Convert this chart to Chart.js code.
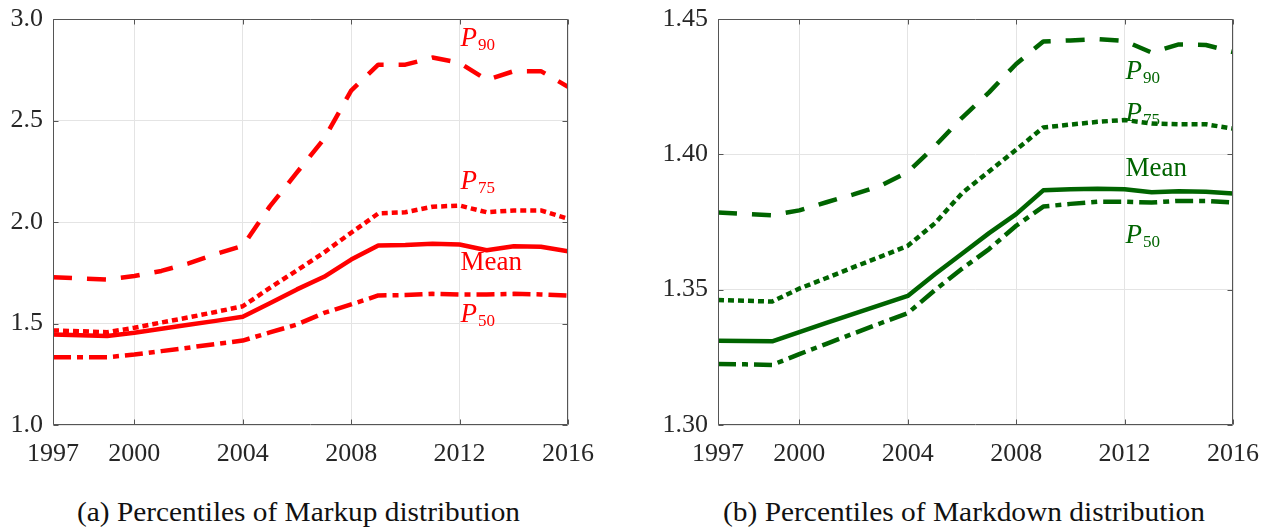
<!DOCTYPE html>
<html>
<head>
<meta charset="utf-8">
<title>Percentiles of Markup and Markdown distributions</title>
<script src="https://cdn.jsdelivr.net/npm/chart.js@4/dist/chart.umd.min.js"></script>
<style>
  html, body { margin: 0; padding: 0; background: #fff; width: 1271px; height: 529px; overflow: hidden; }
  .panel { position: absolute; top: 0; }
  .panel canvas { display: block; }
  #panelA { left: 0; }
  #panelB { left: 650px; }
  .caption {
    position: absolute; top: 499px; line-height: 1;
    font-family: "Liberation Serif", "DejaVu Serif", serif; font-size: 27px; color: #111;
    white-space: nowrap; transform-origin: left top;
  }
</style>
</head>
<body>
<div class="panel" id="panelA"><canvas id="markup" width="620" height="480"></canvas></div>
<div class="panel" id="panelB"><canvas id="markdown" width="621" height="480"></canvas></div>
<div class="caption" id="capA">(a) Percentiles of Markup distribution</div>
<div class="caption" id="capB">(b) Percentiles of Markdown distribution</div>

<script>
// ---- data -----------------------------------------------------------------
const years = [1997, 1998, 1999, 2000, 2001, 2002, 2003, 2004, 2005, 2006,
               2007, 2008, 2009, 2010, 2011, 2012, 2013, 2014, 2015, 2016];
const yearTicks = [1997, 2000, 2004, 2008, 2012, 2016];

// markups
const markupP90  = [1.728, 1.722, 1.717, 1.734, 1.759, 1.796, 1.842, 1.882, 2.077, 2.244,
                    2.410, 2.647, 2.775, 2.775, 2.810, 2.784, 2.700, 2.743, 2.743, 2.666];
const markupP75  = [1.466, 1.462, 1.457, 1.479, 1.505, 1.530, 1.557, 1.585, 1.675, 1.762,
                    1.850, 1.947, 2.042, 2.048, 2.075, 2.081, 2.048, 2.057, 2.057, 2.016];
const markupMean = [1.446, 1.442, 1.438, 1.454, 1.474, 1.494, 1.513, 1.533, 1.600, 1.668,
                    1.730, 1.815, 1.884, 1.887, 1.893, 1.889, 1.861, 1.881, 1.878, 1.856];
const markupP50  = [1.334, 1.334, 1.334, 1.347, 1.364, 1.381, 1.399, 1.416, 1.456, 1.495,
                    1.552, 1.594, 1.638, 1.640, 1.646, 1.643, 1.643, 1.646, 1.643, 1.638];
const markupTicks = [1.0, 1.5, 2.0, 2.5, 3.0];

// markdowns
const markdownP90  = [1.3785, 1.3780, 1.3775, 1.3793, 1.3823, 1.3852, 1.3884, 1.3934, 1.4030, 1.4135,
                      1.4229, 1.4334, 1.4417, 1.4421, 1.4426, 1.4419, 1.4376, 1.4406, 1.4404, 1.4378];
const markdownP75  = [1.3462, 1.3459, 1.3456, 1.3504, 1.3543, 1.3583, 1.3622, 1.3662, 1.3745, 1.3856,
                      1.3937, 1.4017, 1.4099, 1.4110, 1.4120, 1.4127, 1.4114, 1.4111, 1.4111, 1.4095];
const markdownMean = [1.3311, 1.3310, 1.3309, 1.3343, 1.3377, 1.3411, 1.3444, 1.3477, 1.3557, 1.3633,
                      1.3709, 1.3779, 1.3867, 1.3871, 1.3873, 1.3871, 1.3860, 1.3864, 1.3862, 1.3855];
const markdownP50  = [1.3225, 1.3224, 1.3222, 1.3262, 1.3300, 1.3338, 1.3376, 1.3413, 1.3498, 1.3577,
                      1.3650, 1.3736, 1.3807, 1.3817, 1.3825, 1.3825, 1.3822, 1.3828, 1.3828, 1.3822];
const markdownTicks = [1.30, 1.35, 1.40, 1.45];

// ---- styling ----------------------------------------------------------------
const SERIF = '"Liberation Serif", "DejaVu Serif", serif';
const AXIS_COLOR = '#555555';
const GRID_COLOR = '#e4e4e4';
const TEXT_COLOR = '#262626';

const LINE_STYLES = {
  p90:  [19, 15],
  p75:  [6, 4],
  mean: [],
  p50:  [18, 6, 6, 6]
};

function pairs(values) {
  return years.map((yr, i) => ({ x: yr, y: values[i] }));
}

function series(label, values, style, color) {
  return {
    label,
    data: pairs(values),
    borderColor: color,
    backgroundColor: color,
    borderWidth: 4.5,
    borderDash: LINE_STYLES[style],
    borderCapStyle: 'butt',
    borderJoinStyle: 'round',
    pointRadius: 0,
    tension: 0,
    fill: false
  };
}

// Box around the axes plus short inward tick marks on all four sides.
const axesBox = {
  id: 'axesBox',
  afterDatasetsDraw(chart) {
    const { ctx, chartArea: a, scales: { x, y } } = chart;
    const L = Math.round(a.left) + 0.5, R = Math.round(a.right) - 0.5;
    const T = Math.round(a.top) + 0.5, B = Math.round(a.bottom) - 0.5;
    const tick = 5;
    ctx.save();
    ctx.strokeStyle = AXIS_COLOR;
    ctx.lineWidth = 1;
    ctx.beginPath();
    ctx.rect(L, T, R - L, B - T);
    x.ticks.forEach(t => {
      const px = Math.round(x.getPixelForValue(t.value)) + 0.5;
      ctx.moveTo(px, B); ctx.lineTo(px, B - tick);
      ctx.moveTo(px, T); ctx.lineTo(px, T + tick);
    });
    y.ticks.forEach(t => {
      const py = Math.round(y.getPixelForValue(t.value)) + 0.5;
      ctx.moveTo(L, py); ctx.lineTo(L + tick, py);
      ctx.moveTo(R, py); ctx.lineTo(R - tick, py);
    });
    ctx.stroke();
    ctx.restore();
  }
};

// In-plot series names, anchored in data coordinates.
const seriesNames = {
  id: 'seriesNames',
  afterDatasetsDraw(chart, args, opts) {
    const { ctx, scales: { x, y } } = chart;
    ctx.save();
    ctx.fillStyle = opts.color;
    ctx.textAlign = 'left';
    ctx.textBaseline = 'alphabetic';
    const px = x.getPixelForValue(opts.atYear) + 1;
    opts.items.forEach(item => {
      const py = y.getPixelForValue(item.at);
      if (item.sub) {
        ctx.font = 'italic 27px ' + SERIF;
        ctx.fillText(item.main, px, py);
        const w = ctx.measureText(item.main).width;
        ctx.font = '17px ' + SERIF;
        ctx.fillText(item.sub, px + w + 1, py + 4);
      } else {
        ctx.font = '27px ' + SERIF;
        ctx.fillText(item.main, px, py);
      }
    });
    ctx.restore();
  }
};

function makeChart(canvasId, cfg) {
  return new Chart(document.getElementById(canvasId), {
    type: 'line',
    data: {
      datasets: [
        series('P90',  cfg.p90,  'p90',  cfg.color),
        series('P75',  cfg.p75,  'p75',  cfg.color),
        series('Mean', cfg.mean, 'mean', cfg.color),
        series('P50',  cfg.p50,  'p50',  cfg.color)
      ]
    },
    options: {
      responsive: false,
      animation: false,
      events: [],
      layout: { padding: { top: 19, right: cfg.rightPad, left: 0, bottom: 0 } },
      plugins: {
        legend: { display: false },
        tooltip: { enabled: false },
        seriesNames: { color: cfg.color, atYear: 2012, items: cfg.names }
      },
      scales: {
        x: {
          type: 'linear',
          min: 1997, max: 2016,
          afterBuildTicks: s => { s.ticks = yearTicks.map(v => ({ value: v })); },
          afterFit: s => { s.height = 55; s.paddingLeft = 0; s.paddingRight = 0; },
          grid: { color: GRID_COLOR, drawTicks: false, lineWidth: 1 },
          border: { display: false },
          ticks: {
            autoSkip: false, maxRotation: 0, padding: 14,
            color: TEXT_COLOR,
            font: { family: SERIF, size: 26 },
            callback: v => String(v)
          }
        },
        y: {
          type: 'linear',
          min: cfg.ticks[0], max: cfg.ticks[cfg.ticks.length - 1],
          afterBuildTicks: s => { s.ticks = cfg.ticks.map(v => ({ value: v })); },
          afterFit: s => { s.width = cfg.yAxisWidth; s.paddingTop = 0; s.paddingBottom = 0; },
          grid: { color: GRID_COLOR, drawTicks: false, lineWidth: 1 },
          border: { display: false },
          ticks: {
            padding: 10,
            color: TEXT_COLOR,
            font: { family: SERIF, size: 26 },
            callback: v => Number(v).toFixed(cfg.decimals)
          }
        }
      }
    },
    plugins: [axesBox, seriesNames]
  });
}

makeChart('markup', {
  p90: markupP90, p75: markupP75, mean: markupMean, p50: markupP50,
  ticks: markupTicks, decimals: 1,
  color: '#ff0000',
  yAxisWidth: 53, rightPad: 52,
  names: [
    { main: 'P', sub: '90', at: 2.866 },
    { main: 'P', sub: '75', at: 2.163 },
    { main: 'Mean', at: 1.766 },
    { main: 'P', sub: '50', at: 1.506 }
  ]
});

makeChart('markdown', {
  p90: markdownP90, p75: markdownP75, mean: markdownMean, p50: markdownP50,
  ticks: markdownTicks, decimals: 2,
  color: '#006400',
  yAxisWidth: 68, rightPad: 38,
  names: [
    { main: 'P', sub: '90', at: 1.4277 },
    { main: 'P', sub: '75', at: 1.4123 },
    { main: 'Mean', at: 1.3920 },
    { main: 'P', sub: '50', at: 1.3674 }
  ]
});

// Caption widths and placement under each panel.
function placeCaption(id, left, width) {
  const el = document.getElementById(id);
  const w = el.getBoundingClientRect().width;
  el.style.left = left + 'px';
  el.style.transform = 'scaleX(' + (width / w) + ')';
}
placeCaption('capA', 77, 443);
placeCaption('capB', 723, 482);
</script>
</body>
</html>
